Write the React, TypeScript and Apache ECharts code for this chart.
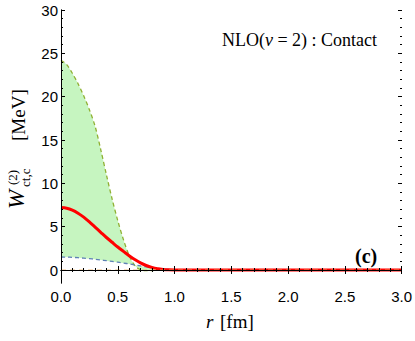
import React, { useEffect, useRef } from "react";
import * as echarts from "echarts";

const rValues = [0, 0.05, 0.1, 0.15, 0.2, 0.25, 0.3, 0.35, 0.4, 0.45, 0.5, 0.55, 0.6, 0.65, 0.7, 0.75, 0.8, 0.85, 0.9, 0.95, 1.0, 1.1, 1.2, 1.5, 2.0, 2.5, 3.0];
const upperValues = [24.2, 23.7, 22.7, 21.5, 20.1, 18.5, 16.6, 13.9, 11.0, 8.2, 5.7, 3.5, 1.7, 0.5, 0.03, -0.08, -0.06, -0.03, 0, 0, 0, 0, 0, 0, 0, 0, 0];
const centralValues = [7.2, 7.12, 6.9, 6.55, 6.1, 5.55, 4.95, 4.35, 3.75, 3.2, 2.65, 2.15, 1.65, 1.2, 0.82, 0.52, 0.3, 0.15, 0.07, 0.03, 0.01, 0, 0, 0, 0, 0, 0];
const lowerValues = [1.5, 1.49, 1.46, 1.42, 1.37, 1.31, 1.24, 1.16, 1.08, 0.99, 0.9, 0.8, 0.7, 0.58, 0.47, 0.36, 0.27, 0.19, 0.12, 0.07, 0.04, 0.01, 0, 0, 0, 0, 0];
const zeroLine = [[0, 0], [3, 0]];
const xTickLabels = ["0.0", "0.5", "1.0", "1.5", "2.0", "2.5", "3.0"];

const serif = "'Liberation Serif', 'Times New Roman', serif";
const sans = "'Liberation Sans', Arial, sans-serif";

export default function App() {
  const ref = useRef<HTMLDivElement>(null);
  useEffect(() => {
    if (!ref.current) return;
    const chart = echarts.init(ref.current, undefined, { renderer: "svg" });
    const bandTop = rValues.map((r, i) => [r, Math.max(upperValues[i], lowerValues[i])]);
    const bandBottom = rValues.map((r, i) => [r, Math.max(0, Math.min(upperValues[i], lowerValues[i]))]);
    const pts = (arr: number[]) => rValues.map((r, i) => [r, arr[i]]);
    const black = "#000";
    const tickCommon = {
      z: 10,
      axisLine: { show: true, lineStyle: { color: black, width: 1 } },
      axisTick: { show: true, inside: true, length: 4, lineStyle: { color: black } },
      minorTick: { show: true, splitNumber: 5, length: 2, lineStyle: { color: black } },
      splitLine: { show: false },
      minorSplitLine: { show: false },
    };
    chart.setOption({
      animation: false,
      grid: [
        { left: 61, right: 13, top: 10, bottom: 58 },
        { left: 61, right: 13, top: 10, bottom: 71 },
      ],
      xAxis: [
        {
          gridIndex: 0, type: "value", min: 0, max: 3, interval: 0.5, position: "bottom",
          ...tickCommon,
          axisLabel: {
            show: true, fontFamily: sans, fontSize: 15, color: black, margin: 6,
            formatter: (v: number) => xTickLabels[Math.round(v / 0.5)] ?? "",
          },
        },
        {
          gridIndex: 0, type: "value", min: 0, max: 3, interval: 0.5, position: "top",
          ...tickCommon,
          axisLabel: { show: false },
        },
        { gridIndex: 1, type: "value", min: 0, max: 3, show: false },
      ],
      yAxis: [
        {
          gridIndex: 0, type: "value", min: -1.5, max: 30, position: "left", z: 10,
          axisLine: { show: true, lineStyle: { color: black, width: 1 } },
          axisTick: { show: false }, axisLabel: { show: false }, splitLine: { show: false },
        },
        {
          gridIndex: 0, type: "value", min: -1.5, max: 30, position: "right", z: 10,
          axisLine: { show: true, lineStyle: { color: black, width: 1 } },
          axisTick: { show: false }, axisLabel: { show: false }, splitLine: { show: false },
        },
        {
          gridIndex: 1, type: "value", min: 0, max: 30, interval: 5, position: "left",
          ...tickCommon,
          axisLine: { show: false },
          axisLabel: { show: true, fontFamily: sans, fontSize: 15, color: black, margin: 3, showMinLabel: true, showMaxLabel: true },
        },
        {
          gridIndex: 1, type: "value", min: 0, max: 30, interval: 5, position: "right",
          ...tickCommon,
          axisLine: { show: false },
          axisLabel: { show: false },
        },
      ],
      series: [
        {
          type: "line", xAxisIndex: 0, yAxisIndex: 0,
          data: bandTop, symbol: "none", smooth: 0.3, lineStyle: { opacity: 0 },
          areaStyle: { color: "#c6f5c0", opacity: 1, origin: 0 }, z: 1, silent: true,
        },
        {
          type: "line", xAxisIndex: 0, yAxisIndex: 0,
          data: bandBottom, symbol: "none", smooth: 0.3, lineStyle: { opacity: 0 },
          areaStyle: { color: "#ffffff", opacity: 1, origin: 0 }, z: 2, silent: true,
        },
        {
          type: "line", xAxisIndex: 0, yAxisIndex: 0, data: pts(upperValues), symbol: "none", smooth: 0.3,
          lineStyle: { color: "#8fb032", width: 1.3, type: [4, 3] }, z: 3,
        },
        {
          type: "line", xAxisIndex: 0, yAxisIndex: 0, data: pts(lowerValues), symbol: "none", smooth: 0.3,
          lineStyle: { color: "#5e81b5", width: 1.3, type: [4, 3] }, z: 3,
        },
        {
          type: "line", xAxisIndex: 0, yAxisIndex: 0, data: pts(centralValues), symbol: "none", smooth: 0.3,
          lineStyle: { color: "#ff0000", width: 3 }, z: 4,
        },
        {
          type: "line", xAxisIndex: 0, yAxisIndex: 0, data: zeroLine, symbol: "none",
          lineStyle: { color: "#f0b060", width: 1, type: [5, 4], opacity: 0.8 }, z: 5,
        },
      ],
      graphic: [
        {
          type: "text", left: 222, top: 31, z: 10,
          style: {
            text: "{n|NLO(}{i|ν}{n| = 2) : Contact}",
            rich: {
              n: { fontFamily: serif, fontSize: 18, fill: black },
              i: { fontFamily: serif, fontSize: 18, fontStyle: "italic", fill: black },
            },
          },
        },
        {
          type: "text", left: 355, top: 246, z: 10,
          style: { text: "(c)", fontFamily: serif, fontSize: 20, fontWeight: "bold", fill: black },
        },
        {
          type: "text", left: 206, top: 312, z: 10,
          style: {
            text: "{i|r}  {n|[fm]}",
            rich: {
              n: { fontFamily: serif, fontSize: 19, fill: black },
              i: { fontFamily: serif, fontSize: 19, fontStyle: "italic", fill: black },
            },
          },
        },
        {
          type: "group", x: 28, y: 209, rotation: Math.PI / 2, z: 10,
          children: [
            { type: "text", x: 0, y: 0, style: { text: "W", fontFamily: serif, fontSize: 23, fontStyle: "italic", fill: black, verticalAlign: "bottom", align: "left" } },
            { type: "text", x: 24, y: -9, style: { text: "(2)", fontFamily: serif, fontSize: 13, fill: black, verticalAlign: "bottom", align: "left" } },
            { type: "text", x: 22, y: 4, style: { text: "ct,c", fontFamily: serif, fontSize: 13, fill: black, verticalAlign: "bottom", align: "left" } },
            { type: "text", x: 68, y: 0, style: { text: "[MeV]", fontFamily: serif, fontSize: 19, fill: black, verticalAlign: "bottom", align: "left" } },
          ],
        },
      ],
    });
    return () => chart.dispose();
  }, []);
  return <div ref={ref} style={{ position: "absolute", left: 0, top: 0, width: 415, height: 341 }} />;
}
